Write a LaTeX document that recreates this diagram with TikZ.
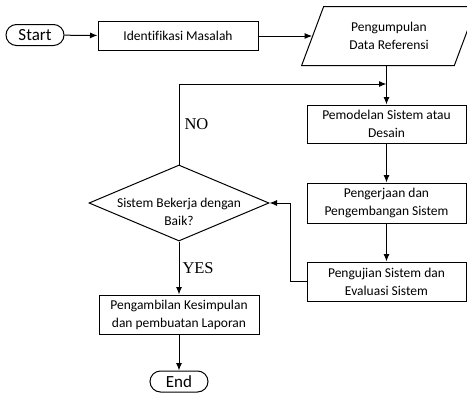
\documentclass[tikz,border=0pt]{standalone}
\usepackage{fontspec}
\setmainfont[Ligatures=NoCommon]{Carlito}
\newfontfamily\labelfont{Liberation Serif}
\usetikzlibrary{arrows.meta,positioning,shapes.geometric,shapes.misc}

\begin{document}
\begin{tikzpicture}[x=1pt, y=-1pt, >={Latex[length=7.5pt,width=6pt]}, line width=1pt,
			box/.style={rectangle, draw, minimum width=159pt, inner sep=0pt,
				align=center, font=\fontsize{13.5}{18}\selectfont},
			term/.style={rounded rectangle, draw, minimum width=58pt,
				minimum height=21pt, inner sep=0pt, font=\fontsize{17}{20}\selectfont},
			answer/.style={anchor=west, inner sep=0pt, font=\labelfont\fontsize{16.5}{18}\selectfont}]
			\useasboundingbox (0,0) rectangle (467,394);
			\clip (0,0) rectangle (467,394);
			% top row
			\node[term] (start) at (35,35) {Start};
			\node[box, minimum width=160pt, minimum height=29pt] (ident) at (178,36) {Identifikasi Masalah};
			\node[trapezium, draw, trapezium left angle=64, trapezium right angle=116,
				trapezium stretches=true, minimum width=175pt, minimum height=59pt,
				inner sep=0pt, align=center, font=\fontsize{13.5}{18}\selectfont] (data) at (389,36)
				{Pengumpulan\\Data Referensi};
			% right column
			\node[box, minimum height=38pt] (model) at (386.5,124) {Pemodelan Sistem atau\\Desain};
			\node[box, minimum height=40pt] (kerja) at (386.5,203) {Pengerjaan dan\\Pengembangan Sistem};
			\node[box, minimum height=39pt] (uji) at (386.5,281.5) {Pengujian Sistem dan\\Evaluasi Sistem};
			% left column
			\node[diamond, draw, minimum width=180pt, minimum height=76pt, inner sep=0pt] (cek) at (179,203) {};
			\node[align=center, font=\fontsize{13.5}{18}\selectfont] (cektext) at (179,212)
				{Sistem Bekerja dengan\\Baik?};
			\node[box, minimum width=160pt, minimum height=39pt] (ambil) at (179,314.5)
				{Pengambilan Kesimpulan\\dan pembuatan Laporan};
			\node[term] (end) at (179,381.5) {End};
			\coordinate (back) at (386.5,84);
			% connectors
			\draw[->] (start) -- (ident);
			\draw[->] (ident) -- (data);
			\draw[->] (data.south -| model) -- (model);
			\draw[->] (model) -- (kerja);
			\draw[->] (kerja) -- (uji);
			\draw[->] (uji.west) -- ++(-16,0) |- (cek.east);
			\draw[->] (cek.north) |- (back);
			\draw[->] (cek) -- (ambil);
			\draw[->] (ambil) -- (end);
			\node[answer] (no) at (184,124) {NO};
			\node[answer] (yes) at (182,268) {YES};
		\end{tikzpicture}
\end{document}
